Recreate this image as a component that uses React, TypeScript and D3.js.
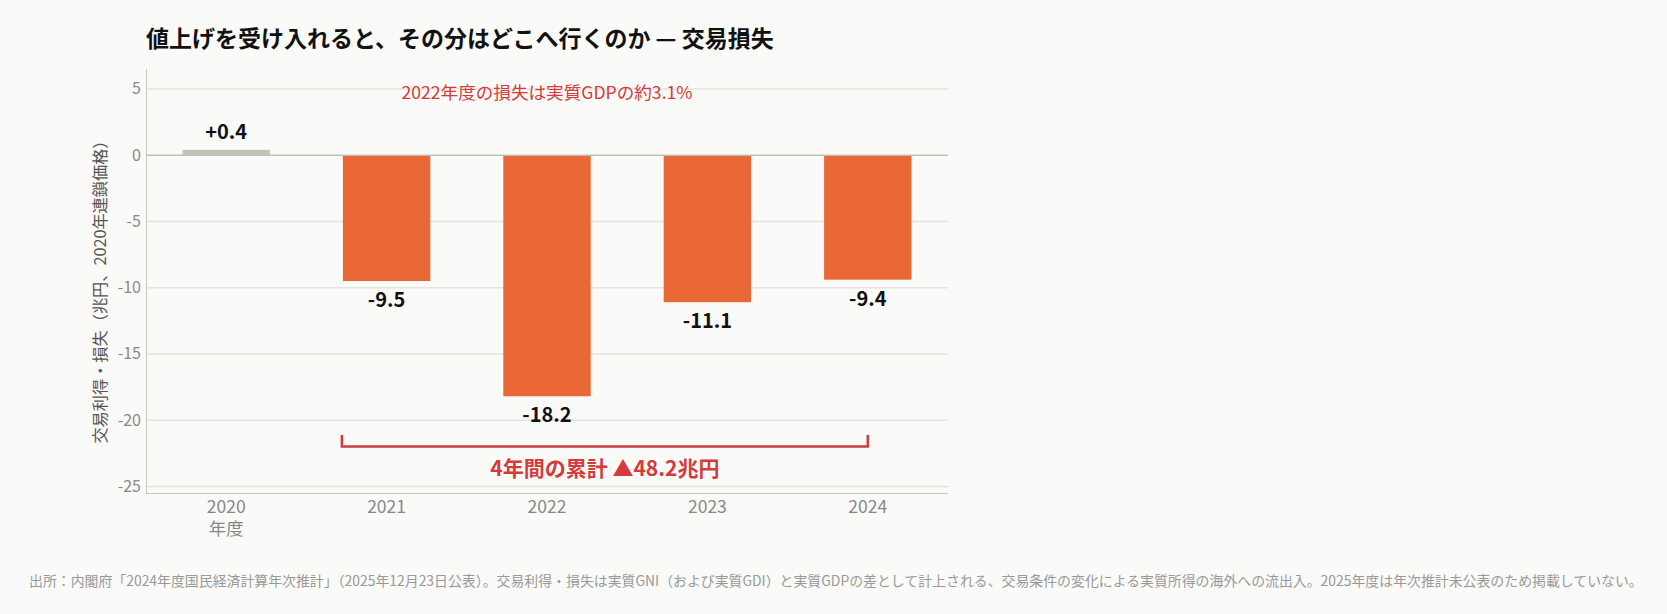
import React, { useEffect, useRef } from 'react';
import * as d3 from 'd3';

const years = ['2020', '2021', '2022', '2023', '2024'];
const values = [0.4, -9.5, -18.2, -11.1, -9.4];
const valueLabels = ['+0.4', '-9.5', '-18.2', '-11.1', '-9.4'];
const yTicks = [5, 0, -5, -10, -15, -20, -25];

const title = '値上げを受け入れると、その分はどこへ行くのか — 交易損失';
const yLabel = '交易利得・損失（兆円、2020年連鎖価格）';
const noteText = '2022年度の損失は実質GDPの約3.1%';
const totalText = '4年間の累計 ▲48.2兆円';
const footer =
  '出所：内閣府「2024年度国民経済計算年次推計」（2025年12月23日公表）。交易利得・損失は実質GNI（および実質GDI）と実質GDPの差として計上される、交易条件の変化による実質所得の海外への流出入。2025年度は年次推計未公表のため掲載していない。';

const FONT = '"Noto Sans CJK JP", "Noto Sans", sans-serif';

const App: React.FC = () => {
  const svgRef = useRef<SVGSVGElement | null>(null);

  useEffect(() => {
    if (!svgRef.current) return;
    const width = 1667;
    const height = 614;

    const svg = d3.select(svgRef.current)
      .attr('width', width)
      .attr('height', height)
      .style('font-family', FONT);
    svg.selectAll('*').remove();

    svg.append('rect').attr('width', width).attr('height', height).attr('fill', '#fafaf8');

    // scales
    const x = d3.scaleBand<string>()
      .domain(years)
      .range([146, 948])
      .paddingInner(0.455)
      .paddingOuter(0.2275);
    const y = d3.scaleLinear().domain([-25.5, 6.5]).range([493, 69]);

    // grid
    svg.append('g')
      .selectAll('line')
      .data(yTicks.filter(t => t !== 0))
      .enter()
      .append('line')
      .attr('x1', 146)
      .attr('x2', 948)
      .attr('y1', d => y(d))
      .attr('y2', d => y(d))
      .attr('stroke', '#e4e3dd')
      .attr('stroke-width', 1.5);

    // y tick labels
    svg.append('g')
      .selectAll('text')
      .data(yTicks)
      .enter()
      .append('text')
      .attr('x', 141)
      .attr('y', d => y(d))
      .attr('dy', '0.35em')
      .attr('text-anchor', 'end')
      .attr('font-size', 16)
      .attr('fill', '#8a8a8a')
      .text(d => String(d));

    // bars
    svg.append('g')
      .selectAll('rect')
      .data(values)
      .enter()
      .append('rect')
      .attr('x', (_, i) => x(years[i])!)
      .attr('width', x.bandwidth())
      .attr('y', d => y(Math.max(0, d)))
      .attr('height', d => Math.abs(y(d) - y(0)))
      .attr('fill', d => (d >= 0 ? '#c4c3b8' : '#e96835'));

    // zero line
    svg.append('line')
      .attr('x1', 146)
      .attr('x2', 948)
      .attr('y1', y(0))
      .attr('y2', y(0))
      .attr('stroke', '#c2c1b6')
      .attr('stroke-width', 1.5);

    // axes lines
    svg.append('line')
      .attr('x1', 146.5).attr('x2', 146.5)
      .attr('y1', 69).attr('y2', 493.5)
      .attr('stroke', '#c8c7bd').attr('stroke-width', 1);
    svg.append('line')
      .attr('x1', 146).attr('x2', 948)
      .attr('y1', 493.5).attr('y2', 493.5)
      .attr('stroke', '#c8c7bd').attr('stroke-width', 1);

    // value labels
    svg.append('g')
      .selectAll('text')
      .data(values)
      .enter()
      .append('text')
      .attr('x', (_, i) => x(years[i])! + x.bandwidth() / 2)
      .attr('y', d => (d >= 0 ? y(d) - 11 : y(d) + 26))
      .attr('text-anchor', 'middle')
      .attr('font-size', 20)
      .attr('font-weight', 'bold')
      .attr('fill', '#111')
      .text((_, i) => valueLabels[i]);

    // x labels
    svg.append('g')
      .selectAll('text')
      .data(years)
      .enter()
      .append('text')
      .attr('x', d => x(d)! + x.bandwidth() / 2)
      .attr('y', 513)
      .attr('text-anchor', 'middle')
      .attr('font-size', 17.5)
      .attr('fill', '#888')
      .text(d => d);
    svg.append('text')
      .attr('x', x('2020')! + x.bandwidth() / 2)
      .attr('y', 535)
      .attr('text-anchor', 'middle')
      .attr('font-size', 17.5)
      .attr('fill', '#888')
      .text('年度');

    // note on 2022
    svg.append('text')
      .attr('x', x('2022')! + x.bandwidth() / 2)
      .attr('y', 99)
      .attr('text-anchor', 'middle')
      .attr('font-size', 17.6)
      .attr('fill', '#d63a3a')
      .text(noteText);

    // bracket for 2021-2024
    const bx0 = x('2021')! - 1;
    const bx1 = x('2024')! + x.bandwidth() / 2;
    svg.append('path')
      .attr('d', `M${bx0},435 V446.5 H${bx1} V435`)
      .attr('fill', 'none')
      .attr('stroke', '#d03b3b')
      .attr('stroke-width', 2.5);
    svg.append('text')
      .attr('x', (bx0 + bx1) / 2)
      .attr('y', 476)
      .attr('text-anchor', 'middle')
      .attr('font-size', 21)
      .attr('font-weight', 'bold')
      .attr('fill', '#d63a3a')
      .text(totalText);

    // y axis title
    svg.append('text')
      .attr('transform', 'translate(100,288) rotate(-90)')
      .attr('dy', '0.35em')
      .attr('text-anchor', 'middle')
      .attr('font-size', 16.2)
      .attr('fill', '#555')
      .text(yLabel);

    // title
    svg.append('text')
      .attr('x', 146)
      .attr('y', 47)
      .attr('font-size', 23)
      .attr('font-weight', 'bold')
      .attr('fill', '#111')
      .text(title);

    // footer
    svg.append('text')
      .attr('x', 29)
      .attr('y', 586)
      .attr('font-size', 13.9)
      .attr('fill', '#999')
      .text(footer);
  }, []);

  return (
    <div style={{ position: 'absolute', left: 0, top: 0 }}>
      <svg ref={svgRef} style={{ display: 'block' }}></svg>
    </div>
  );
};

export default App;
